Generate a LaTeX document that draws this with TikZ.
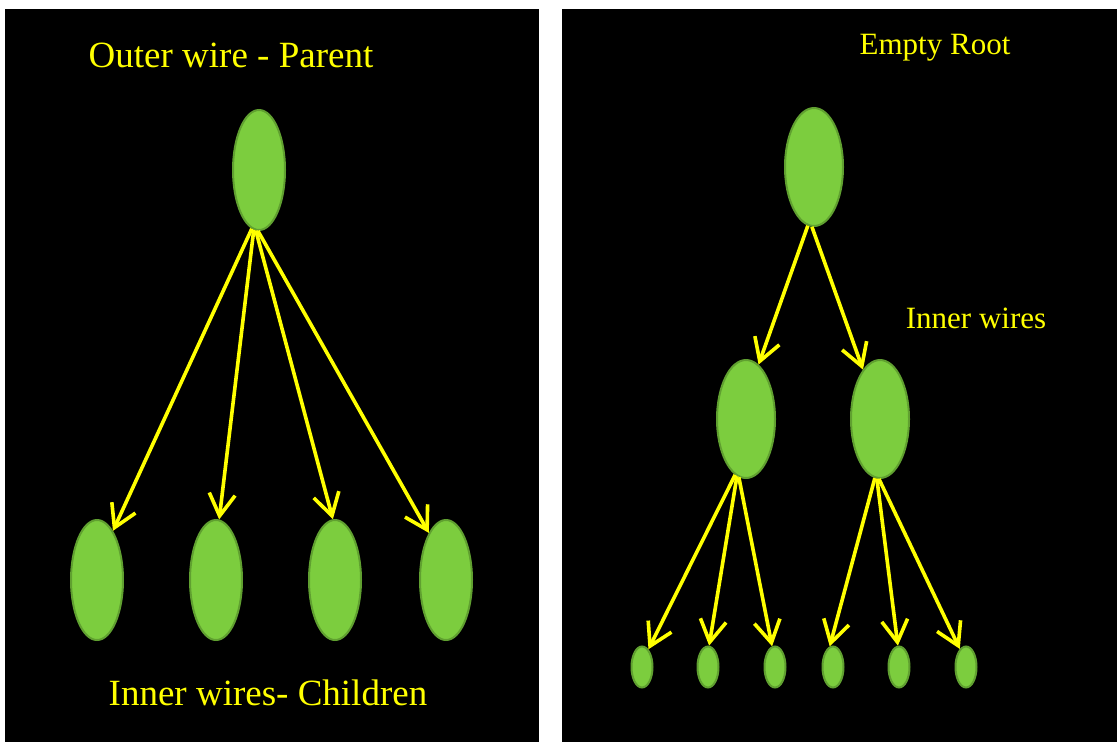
\documentclass[tikz,border=0pt]{standalone}
\usepackage{fontspec}
\setmainfont{Liberation Serif}
\usetikzlibrary{arrows.meta,shapes.geometric}
\definecolor{leaf}{RGB}{124,205,62}
\definecolor{leafedge}{RGB}{96,160,48}
\definecolor{wire}{RGB}{255,255,0}
\begin{document}
\begin{tikzpicture}[x=1pt,y=-1pt,
  blob/.style={ellipse, fill=leaf, draw=leafedge, line width=2pt, inner sep=0pt,
               minimum width=52pt, minimum height=120pt},
  bigblob/.style={blob, minimum width=58pt, minimum height=118pt},
  tinyblob/.style={blob, minimum width=21pt, minimum height=41pt},
  wirearrow/.style={draw=wire, line width=3.6pt,
               -{Straight Barb[length=22pt,width=26pt]}},
  biglbl/.style={text=wire, font=\fontsize{37}{40}\selectfont, anchor=base, inner sep=0pt},
  lbl/.style={text=wire, font=\fontsize{31}{34}\selectfont, anchor=base, inner sep=0pt}]
\useasboundingbox (0,0) rectangle (1117,742);
\fill[white] (0,0) rectangle (1117,742);
\fill[black] (5,9) rectangle (539,742);
\fill[black] (562,9) rectangle (1117,742);

% left panel
\node[biglbl] (tp) at (231,67) {Outer wire - Parent};
\node[biglbl] (tc) at (268,705) {Inner wires- Children};
\node[blob] (p) at (259,170) {};
\node[blob] (c1) at (97,580) {};
\node[blob] (c2) at (216,580) {};
\node[blob] (c3) at (335,580) {};
\node[blob] (c4) at (446,580) {};
\draw[wirearrow] (p.263) -- (c1.72);
\draw[wirearrow] (p.265) -- (c2.87);
\draw[wirearrow] (p.267) -- (c3.92);
\draw[wirearrow] (p.269) -- (c4.110);

% right panel
\node[lbl] (tr) at (935,54) {Empty Root};
\node[lbl] (ti) at (976,328) {Inner wires};
\node[bigblob] (r) at (814,167) {};
\node[bigblob] (m1) at (746,419) {};
\node[bigblob] (m2) at (880,419) {};
\node[tinyblob] (l1) at (642,667) {};
\node[tinyblob] (l2) at (708,667) {};
\node[tinyblob] (l3) at (775,667) {};
\node[tinyblob] (l4) at (833,667) {};
\node[tinyblob] (l5) at (899,667) {};
\node[tinyblob] (l6) at (966,667) {};
\draw[wirearrow] (r.264) -- (m1.77);
\draw[wirearrow] (r.268) -- (m2.109);
\draw[wirearrow] (m1.259) -- (l1.70);
\draw[wirearrow] (m1.261) -- (l2.87);
\draw[wirearrow] (m1.263) -- (l3.98);
\draw[wirearrow] (m2.265) -- (l4.99);
\draw[wirearrow] (m2.267) -- (l5.93);
\draw[wirearrow] (m2.269) -- (l6.109);
\end{tikzpicture}
\end{document}
